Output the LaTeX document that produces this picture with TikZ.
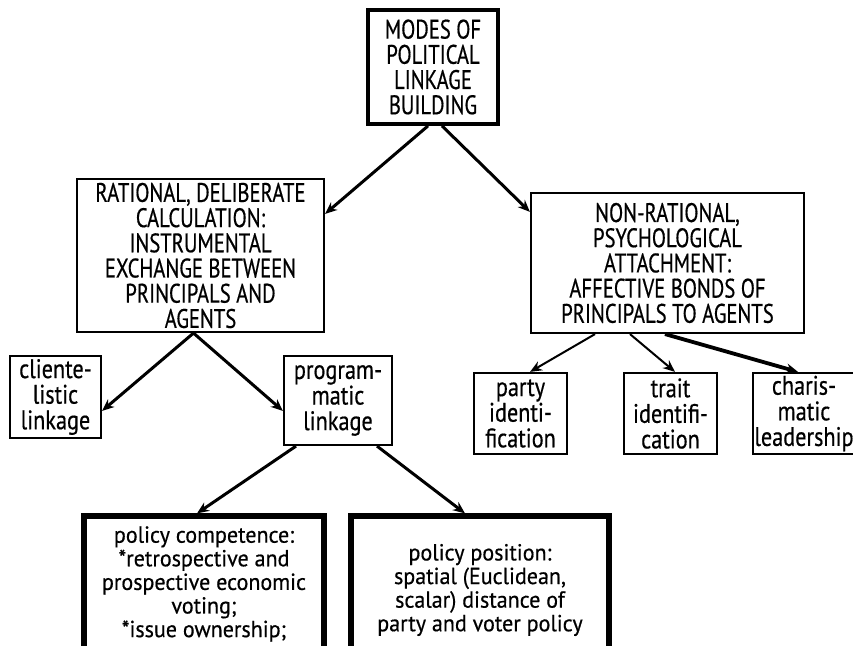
\documentclass[tikz,border=0pt]{standalone}
\usepackage{fontspec}
\setmainfont[FakeStretch=0.83, FakeBold=0.5]{PT Sans}
\newfontfamily\capsfont[FakeStretch=0.77, FakeBold=0.5]{PT Sans}
\newfontfamily\policyfont[FakeStretch=0.95, FakeBold=0.5]{PT Sans}
\usetikzlibrary{arrows.meta,calc}

\begin{document}
\begin{tikzpicture}[x=0.5pt, y=-0.5pt,
    box/.style={draw, line width=1.1pt, align=center, inner sep=0pt,
        font=\fontsize{13.4}{12.8}\selectfont},
    caps box/.style={box, font=\capsfont\fontsize{13.4}{12.6}\selectfont},
    heavy/.style={caps box, line width=1.9pt},
    bold box/.style={box, line width=2.6pt, font=\policyfont\fontsize{11.6}{11.8}\selectfont},
    link/.style={line width=1.5pt, -{Stealth[length=6pt,width=5pt]}},
    thin link/.style={link, line width=1pt}]
    \useasboundingbox (0,0) rectangle (853,646);

    \node[heavy, minimum width=65pt, minimum height=57pt] (modes) at (433,67)
        {MODES OF\\POLITICAL\\LINKAGE\\BUILDING};

    \node[caps box, minimum width=123.5pt, minimum height=76.5pt] (rational) at (200.5,255.5)
        {RATIONAL, DELIBERATE\\CALCULATION:\\INSTRUMENTAL\\EXCHANGE BETWEEN\\PRINCIPALS AND\\AGENTS};
    \node[caps box, minimum width=136.5pt, minimum height=70pt] (affective) at (667.5,263)
        {NON-RATIONAL,\\PSYCHOLOGICAL\\ATTACHMENT:\\AFFECTIVE BONDS OF\\PRINCIPALS TO AGENTS};

    \node[box, minimum width=45.5pt, minimum height=41pt] (clientelistic) at (55.5,397)
        {cliente-\\listic\\linkage};
    \node[box, minimum width=54pt, minimum height=44.5pt] (programmatic) at (338,400.5)
        {program-\\matic\\linkage};

    \node[box, minimum width=46.5pt, minimum height=40.5pt] (party) at (520.5,413.5)
        {party\\identi-\\fication};
    \node[box, minimum width=46.5pt, minimum height=40.5pt] (trait) at (670.5,413.5)
        {trait\\identifi-\\cation};
    \node[box, minimum width=51pt, minimum height=40.5pt] (charismatic) at (804,413.5)
        {charis-\\matic\\leadership};

    \node[bold box, minimum width=120pt, minimum height=68pt] (competence) at (204,584)
        {policy competence:\\*retrospective and\\prospective economic\\voting;\\*issue ownership;};
    \node[bold box, minimum width=129pt, minimum height=74pt] (position) at (480,590)
        {policy position:\\spatial (Euclidean,\\scalar) distance of\\party and voter policy};

    \draw[link] ($(modes.south)+(-5,0)$) -- ($(rational.north east)+(0,36)$);
    \draw[link] ($(modes.south)+(9,0)$) -- ($(affective.north west)+(0,20)$);
    \draw[link] ($(rational.south)+(-7,0)$) -- ($(clientelistic.north east)+(0,56)$);
    \draw[link] ($(rational.south)+(-7,0)$) -- ($(programmatic.north west)+(0,56)$);
    \draw[thin link] ($(affective.south)+(-72.5,0)$) -- ($(party.north)+(9.5,0)$);
    \draw[thin link] ($(affective.south)+(-37.5,0)$) -- ($(trait.north)+(4.5,0)$);
    \draw[link, line width=1.9pt] ($(affective.south)+(-2.5,0)$) -- ($(charismatic.north)+(-6,0)$);
    \draw[link] ($(programmatic.south)+(-42,0)$) -- ($(competence.north)+(-7,0)$);
    \draw[link] ($(programmatic.south)+(39,0)$) -- ($(position.north)+(-15,0)$);
\end{tikzpicture}
\end{document}
